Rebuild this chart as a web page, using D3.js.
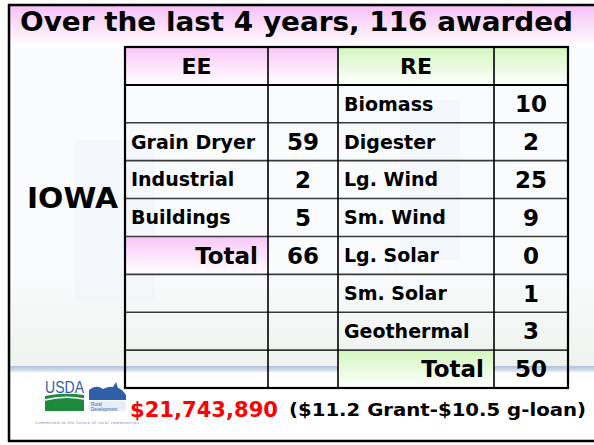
<!DOCTYPE html>
<html><head><meta charset="utf-8">
<script src="https://cdn.jsdelivr.net/npm/d3@7"></script>
<style>html,body{margin:0;padding:0;background:#fff;overflow:hidden}</style>
</head><body>
<svg id="c" width="594" height="445"></svg>
<script>
const titleText = "Over the last 4 years, 116 awarded";
const stateLabel = "IOWA";
const headers = ["EE", "", "RE", ""];
const eeCategories = ["", "Grain Dryer", "Industrial", "Buildings", "Total", "", "", ""];
const eeValues = [null, 59, 2, 5, 66, null, null, null];
const reCategories = ["Biomass", "Digester", "Lg. Wind", "Sm. Wind", "Lg. Solar", "Sm. Solar", "Geothermal", "Total"];
const reValues = [10, 2, 25, 9, 0, 1, 3, 50];
const amountText = "$21,743,890";
const detailText = "($11.2 Grant-$10.5 g-loan)";
const colWeights = [143, 70, 156, 74];

const FONT = "'Comic Sans MS','DejaVu Sans',sans-serif";
const svg = d3.select("#c");
const defs = svg.append("defs");
function vgrad(id, c1, c2) {
  const g = defs.append("linearGradient").attr("id", id).attr("x1",0).attr("y1",0).attr("x2",0).attr("y2",1);
  g.append("stop").attr("offset","0%").attr("stop-color",c1);
  g.append("stop").attr("offset","100%").attr("stop-color",c2);
}
vgrad("pinkT", "#f6c0f6", "#ffffff");
vgrad("pinkC", "#f8c6f8", "#ffffff");
vgrad("greenC", "#d2f6bd", "#ffffff");
vgrad("bgBand", "#f8fafb", "#eef3ee");
vgrad("blueLine", "#aebfd8", "#e2e9f3");

// background
svg.append("rect").attr("x",0).attr("y",0).attr("width",594).attr("height",445).attr("fill","#fff");
svg.append("rect").attr("x",9).attr("y",45).attr("width",585).attr("height",320).attr("fill","#f9fbfd");
svg.append("rect").attr("x",9).attr("y",280).attr("width",585).attr("height",88).attr("fill","url(#bgBand)");
svg.append("rect").attr("x",75).attr("y",140).attr("width",80).attr("height",160).attr("fill","#eef2f8").attr("opacity",0.45);
svg.append("rect").attr("x",400).attr("y",100).attr("width",60).attr("height",160).attr("fill","#eef2f8").attr("opacity",0.4);
svg.append("rect").attr("x",9).attr("y",366).attr("width",585).attr("height",6).attr("fill","url(#blueLine)");
// title band
svg.append("rect").attr("x",9).attr("y",5).attr("width",585).attr("height",42).attr("fill","url(#pinkT)");

// frame
svg.append("line").attr("x1",9).attr("x2",9).attr("y1",4).attr("y2",442).attr("stroke","#000").attr("stroke-width",2.5);
svg.append("line").attr("x1",8).attr("x2",594).attr("y1",5).attr("y2",5).attr("stroke","#000").attr("stroke-width",2.5);
svg.append("line").attr("x1",8).attr("x2",594).attr("y1",441).attr("y2",441).attr("stroke","#000").attr("stroke-width",2.5);

svg.append("text").attr("x",20).attr("y",31).attr("font-family",FONT).attr("font-weight","bold")
  .attr("font-size",26).attr("textLength",553).attr("lengthAdjust","spacingAndGlyphs").attr("fill","#000").text(titleText);

// table scales
const cum = [0]; colWeights.forEach(w => cum.push(cum[cum.length-1]+w));
const xs = d3.scaleLinear().domain([0, cum[cum.length-1]]).range([125, 568]);
const colX = i => xs(cum[i]);
const colW = i => xs(cum[i+1]) - xs(cum[i]);
const rows = d3.range(reCategories.length + 1);
const ys = d3.scaleBand().domain(rows).range([47, 388]);

const cells = [];
headers.forEach((h,i)=>cells.push({r:0,c:i,text:h,kind:"head"}));
reCategories.forEach((cat,k)=>{
  const r = k+1;
  cells.push({r,c:0,text:eeCategories[k],kind:eeCategories[k]==="Total"?"eeTotal":"lab"});
  cells.push({r,c:1,text:eeValues[k]==null?"":String(eeValues[k]),kind:"val"});
  cells.push({r,c:2,text:cat,kind:cat==="Total"?"reTotal":"lab"});
  cells.push({r,c:3,text:String(reValues[k]),kind:"val"});
});

// fills
svg.append("rect").attr("x",colX(0)).attr("y",ys(0)).attr("width",colX(2)-colX(0)).attr("height",ys.bandwidth()).attr("fill","url(#pinkC)");
svg.append("rect").attr("x",colX(2)).attr("y",ys(0)).attr("width",colX(4)-colX(2)).attr("height",ys.bandwidth()).attr("fill","url(#greenC)");
cells.forEach(d=>{
  if (d.kind==="eeTotal") svg.append("rect").attr("x",colX(0)).attr("y",ys(d.r)).attr("width",colW(0)).attr("height",ys.bandwidth()).attr("fill","url(#pinkC)");
  if (d.kind==="reTotal") svg.append("rect").attr("x",colX(2)).attr("y",ys(d.r)).attr("width",colW(2)).attr("height",ys.bandwidth()).attr("fill","url(#greenC)");
});

// grid lines
rows.slice(1).forEach(r=>{
  svg.append("line").attr("x1",colX(0)).attr("x2",colX(4)).attr("y1",ys(r)).attr("y2",ys(r))
    .attr("stroke",r===1?"#000":"#3a3a3a").attr("stroke-width",r===1?2:1.6);
});
[1,2,3].forEach(i=>{
  svg.append("line").attr("x1",colX(i)).attr("x2",colX(i)).attr("y1",ys(0)).attr("y2",388).attr("stroke","#000").attr("stroke-width",1.6);
});
svg.append("rect").attr("x",colX(0)).attr("y",ys(0)).attr("width",colX(4)-colX(0)).attr("height",388-ys(0))
  .attr("fill","none").attr("stroke","#000").attr("stroke-width",2.2);

// texts
cells.forEach(d=>{
  if (!d.text) return;
  const yb = ys(d.r) + ys.bandwidth()/2;
  let x, anchor, size;
  if (d.kind==="head") { x = colX(d.c)+colW(d.c)/2; anchor="middle"; size=22; }
  else if (d.kind==="val") { x = colX(d.c)+colW(d.c)/2; anchor="middle"; size=23; }
  else if (d.kind==="eeTotal" || d.kind==="reTotal") { x = colX(d.c)+colW(d.c)-10; anchor="end"; size=23; }
  else { x = colX(d.c)+6; anchor="start"; size=19; }
  svg.append("text").attr("x",x).attr("y",yb).attr("dy","0.36em").attr("text-anchor",anchor)
    .attr("font-family",FONT).attr("font-weight","bold").attr("font-size",size).attr("fill","#000").text(d.text);
});

svg.append("text").attr("x",27).attr("y",208).attr("font-family",FONT).attr("font-weight","bold")
  .attr("font-size",29).attr("textLength",91).attr("lengthAdjust","spacingAndGlyphs").text(stateLabel);

// logo
const lg = svg.append("g");
lg.append("text").attr("x",45).attr("y",393).attr("font-family","'Liberation Sans',sans-serif").attr("font-size",16)
  .attr("fill","#2f5fa8").attr("textLength",39).attr("lengthAdjust","spacingAndGlyphs").text("USDA");
lg.append("path").attr("d","M45,396 Q64,392 84,395 L84,411 L45,411 Z").attr("fill","#1d8a3e");
lg.append("path").attr("d","M45,400 Q64,395 84,399").attr("fill","none").attr("stroke","#fff").attr("stroke-width",1.5);
lg.append("path").attr("d","M89,400 L89,390 Q96,384 103,389 Q110,386 113,387 L116,382 L118,388 Q122,389 126,395 L126,400 Z").attr("fill","#2f5fa8");
lg.append("rect").attr("x",89).attr("y",401).attr("width",37).attr("height",10).attr("fill","#e7eef7");
lg.append("text").attr("x",91).attr("y",406).attr("font-size",4.5).attr("fill","#2f5fa8").attr("font-family","sans-serif").text("Rural");
lg.append("text").attr("x",91).attr("y",411).attr("font-size",4.5).attr("fill","#2f5fa8").attr("font-family","sans-serif").text("Development");
lg.append("text").attr("x",35).attr("y",424).attr("font-size",4).attr("fill","#6f86a8").attr("font-family","sans-serif")
  .attr("textLength",104).text("Committed to the future of rural communities");

svg.append("text").attr("x",130).attr("y",417).attr("font-family",FONT).attr("font-weight","bold")
  .attr("font-size",22).attr("textLength",148).attr("lengthAdjust","spacingAndGlyphs").attr("fill","#ff0000").text(amountText);
svg.append("text").attr("x",289).attr("y",416).attr("font-family",FONT).attr("font-weight","bold")
  .attr("font-size",17).attr("textLength",297).attr("lengthAdjust","spacingAndGlyphs").attr("fill","#000").text(detailText);
</script>
</body></html>
